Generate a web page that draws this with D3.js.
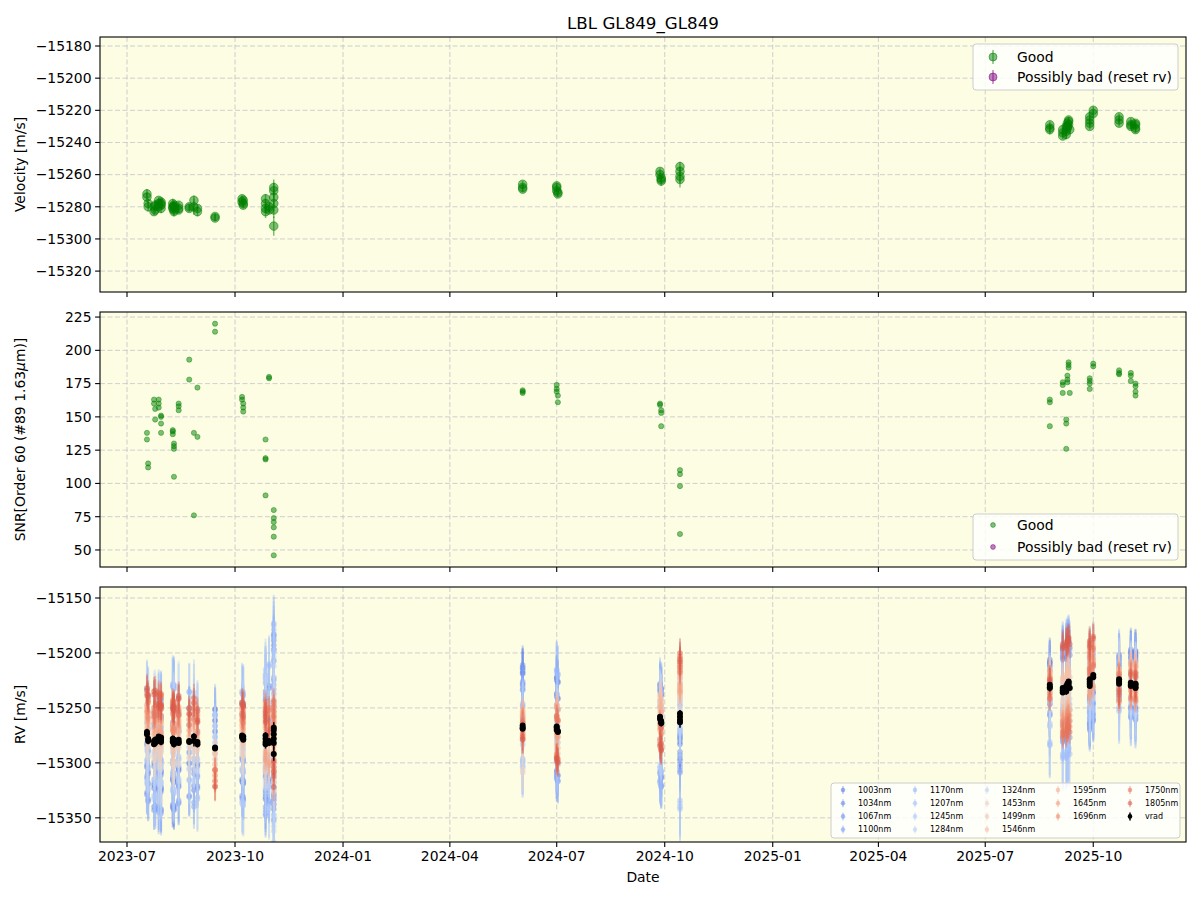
<!DOCTYPE html>
<html>
<head>
<meta charset="utf-8">
<script src="https://cdn.jsdelivr.net/npm/d3@7"></script>
<style>
  body { margin: 0; background: #fff; }
  text { font-family: "DejaVu Sans", sans-serif; fill: #000; }
</style>
</head>
<body>
<svg id="chart" width="1200" height="900"></svg>
<script>
// ---- data ---------------------------------------------------------------
// one entry per observation; groupSize splits them into the visits used by
// the per-band offsets below
var obsDate = [
  "2023-07-18","2023-07-18","2023-07-19","2023-07-19",
  "2023-07-24","2023-07-24","2023-07-25","2023-07-25",
  "2023-07-28","2023-07-28","2023-07-28","2023-07-30","2023-07-30","2023-07-30","2023-07-30",
  "2023-08-09","2023-08-09","2023-08-09","2023-08-10","2023-08-10","2023-08-10","2023-08-10",
  "2023-08-14","2023-08-14","2023-08-14",
  "2023-08-23","2023-08-23",
  "2023-08-27","2023-08-27",
  "2023-08-30","2023-08-30",
  "2023-09-14","2023-09-14",
  "2023-10-07","2023-10-07","2023-10-08","2023-10-08","2023-10-08",
  "2023-10-27","2023-10-27","2023-10-27","2023-10-27",
  "2023-10-30","2023-10-30",
  "2023-11-03","2023-11-03","2023-11-03","2023-11-03","2023-11-03","2023-11-03",
  "2024-06-02","2024-06-02","2024-06-02",
  "2024-07-01","2024-07-01","2024-07-01","2024-07-02","2024-07-02",
  "2024-09-27","2024-09-27","2024-09-28","2024-09-28","2024-09-28",
  "2024-10-14","2024-10-14","2024-10-14","2024-10-14",
  "2025-08-25","2025-08-25","2025-08-25",
  "2025-09-05","2025-09-05","2025-09-05","2025-09-08","2025-09-08","2025-09-08","2025-09-09",
  "2025-09-09","2025-09-09","2025-09-10","2025-09-10","2025-09-10","2025-09-11",
  "2025-09-28","2025-09-28","2025-09-28","2025-09-28","2025-10-01","2025-10-01",
  "2025-10-23","2025-10-23","2025-10-23",
  "2025-11-02","2025-11-02","2025-11-02","2025-11-06","2025-11-06","2025-11-06","2025-11-06"
];
var obsVrad = [
  -15272,-15274,-15278,-15280,
  -15280,-15283,-15282,-15279,
  -15276,-15278,-15280,-15277,-15279,-15281,-15278,
  -15278,-15280,-15281,-15282,-15279,-15280,-15283,
  -15279,-15281,-15282,
  -15280,-15281,
  -15276,-15280,
  -15281,-15283,
  -15286,-15287,
  -15275,-15277,-15278,-15279,-15276,
  -15275,-15278,-15281,-15283,
  -15280,-15282,
  -15268,-15270,-15274,-15278,-15282,-15292,
  -15266,-15268,-15269,
  -15267,-15268,-15270,-15271,-15272,
  -15258,-15260,-15262,-15263,-15264,
  -15255,-15258,-15261,-15263,
  -15229,-15231,-15232,
  -15234,-15236,-15232,-15233,-15230,-15235,-15228,-15231,-15230,-15226,-15229,-15227,-15232,
  -15224,-15226,-15228,-15230,-15220,-15222,
  -15224,-15226,-15228,
  -15227,-15229,-15230,-15228,-15229,-15231,-15232
];
var obsErr = [
  3,3,3,3,
  2,2,2,3,
  2,2,2,2,2,3,3,
  3,3,3,3,3,3,3,
  2,2,2,
  2,2,
  3,5,
  2,3,
  2,2,
  2,2,2,2,2,
  3,3,3,4,
  2,2,
  5,5,5,5,5,6,
  2,2,2,
  2,2,2,2,2,
  2,2,2,2,3,
  3,3,4,5,
  2,2,3,
  2,2,2,3,3,3,2,2,2,2,2,2,2,
  2,2,2,2,2,2,
  2,2,2,
  2,2,2,2,2,2,2
];
var obsSnr = [
  138,133,115,112,
  163,160,156,148,
  163,160,157,151,150,145,138,
  140,139,137,130,128,126,105,
  160,158,155,
  193,178,
  138,76,
  172,135,
  220,214,
  165,163,160,157,154,
  133,119,118,91,
  180,179,
  80,74,71,67,60,46,
  170,169,168,
  174,171,169,166,161,
  160,159,155,153,143,
  110,107,98,62,
  163,161,143,
  176,174,168,148,145,126,181,178,176,191,189,187,168,
  179,177,175,171,190,188,
  185,183,182,
  183,181,177,175,173,169,166
];
var groupSize = [4,4,7,7,3,2,2,2,2,5,4,2,6,3,5,5,4,3,13,6,3,7];

var bandNames = ["1003nm","1034nm","1067nm","1100nm","1170nm","1207nm","1245nm","1284nm",
  "1324nm","1453nm","1499nm","1546nm","1595nm","1645nm","1696nm","1750nm","1805nm"];
var bandWave = [1003,1034,1067,1100,1170,1207,1245,1284,1324,1453,1499,1546,1595,1645,1696,1750,1805];
var bandErr = [20,18,18,20, 26,30,28,32,34, 18,15,13, 11,10,10,11,13];
// RV offset of each band from vrad, one row per visit (groupSize order)
var bandOffset = [
  [-30,-55,-10,-40, 40,-25,-45,10,-15, -5,5,10, 15,25,20,35,40],
  [-40,-20,-60,15, -35,25,-50,-10,30, -15,0,5, 10,20,30,25,45],
  [20,-45,-30,-65, 35,-20,10,-40,-25, -10,-5,15, 20,5,30,40,30],
  [-35,-60,15,-20, 50,-30,-45,30,-10, -20,-5,0, 15,25,10,35,30],
  [-25,10,-40,-55, 25,-15,-35,40,-20, -5,5,10, 20,15,30,25,40],
  [30,-20,-50,-10, 45,-35,15,-25,-5, -15,0,5, 10,20,15,30,25],
  [-45,20,-30,-60, -20,40,-40,25,-10, -10,-5,10, 15,25,20,30,35],
  [-20,-40,10,-30, 30,-50,-15,20,-25, -5,0,5, 20,10,25,30,20],
  [35,25,15,30, 20,10,30,5,-5, -10,-15,-5, -20,-25,-30,-20,-35],
  [-40,30,-55,-20, 40,-30,-60,20,-10, -15,-5,5, 10,25,15,20,30],
  [-50,40,-30,-65, 55,-20,60,-40,25, -10,-25,10, 15,-15,25,30,20],
  [-35,50,-55,20, 70,-40,-60,35,-15, -20,-10,5, 25,-20,15,30,10],
  [-60,85,-40,45, 95,-55,70,-80,30, -25,-35,15, 20,-15,10,25,-30],
  [50,55,40,35, 20,-30,-35,10,-15, -40,-10,5, 15,10,-5,5,-10],
  [45,30,-40,-45, 52,20,-30,-10,5, -20,-15,10, 20,-5,-25,10,-28],
  [30,25,-50,-58, 28,-45,15,-20,10, 5,15,20, 10,-10,-20,-5,-25],
  [-20,-35,-46,-15, 15,-79,-10,5,35, 30,20,25, 40,27,50,45,55],
  [23,20,-15,-25, 15,-52,-35,-13,-5, 5,10,0, 14,-5,8,-10,5],
  [37,30,-45,-20, 35,-60,-30,-15,5, -10,-20,10, -25,-35,-30,-40,40],
  [-15,-40,-25,-35, 20,-30,10,-20,15, 25,30,10, 15,-10,25,10,35],
  [22,15,-5,-15, 20,-25,10,-10,5, 0,5,10, 9,-5,-17,5,-10],
  [30,25,-21,-29, 20,-25,10,-15,5, 0,10,15, 19,-5,-12,10,0]
];

var xTicks = ["2023-07","2023-10","2024-01","2024-04","2024-07","2024-10","2025-01","2025-04","2025-07","2025-10"];
var velTicks = [-15320,-15300,-15280,-15260,-15240,-15220,-15200,-15180];
var snrTicks = [50,75,100,125,150,175,200,225];
var rvTicks = [-15350,-15300,-15250,-15200,-15150];

// ---- layout -------------------------------------------------------------
var svg = d3.select("#chart");
var L = 100, R = 1186;
var panels = [
  { top: 37, bottom: 292, dom: [-15333, -15174.4], ticks: velTicks, label: "Velocity [m/s]" },
  { top: 312, bottom: 567, dom: [37.2, 228.8], ticks: snrTicks, label: null },
  { top: 587, bottom: 842, dom: [-15372, -15140], ticks: rvTicks, label: "RV [m/s]" }
];
var BG = "#fdfde3", GOOD = "green", BAD = "purple";
var parse = d3.utcParse("%Y-%m-%d"), parseM = d3.utcParse("%Y-%m");
var x = d3.scaleUtc().domain([parse("2023-06-08"), parse("2025-12-19")]).range([L, R]);
var fmt = function (v) { return v < 0 ? "\u2212" + Math.abs(v) : String(v); };

var obsGroup = [];
groupSize.forEach(function (n, g) { for (var k = 0; k < n; k++) obsGroup.push(g); });
var obs = obsDate.map(function (d, i) {
  return { t: parse(d), v: obsVrad[i], e: obsErr[i], s: obsSnr[i], g: obsGroup[i] };
});

// matplotlib coolwarm key colours
var cw = d3.scaleLinear()
  .domain([0, 0.125, 0.25, 0.375, 0.5, 0.625, 0.75, 0.875, 1])
  .range(["rgb(59,76,192)","rgb(98,130,234)","rgb(141,176,254)","rgb(184,208,249)",
          "rgb(221,221,221)","rgb(245,196,172)","rgb(244,154,123)","rgb(222,96,77)","rgb(180,4,38)"])
  .interpolate(d3.interpolateRgb);
var tw = d3.scaleLinear().domain([1003, 1805]).range([0.12, 0.88]);
function bandColor(b) { return cw(tw(bandWave[b])); }

svg.append("rect").attr("width", 1200).attr("height", 900).attr("fill", "#fff");
var defs = svg.append("defs");

panels.forEach(function (p, pi) {
  p.y = d3.scaleLinear().domain(p.dom).range([p.bottom, p.top]);
  defs.append("clipPath").attr("id", "clip" + pi).append("rect")
    .attr("x", L).attr("y", p.top).attr("width", R - L).attr("height", p.bottom - p.top);
  var g = svg.append("g");
  g.append("rect").attr("x", L).attr("y", p.top).attr("width", R - L)
    .attr("height", p.bottom - p.top).attr("fill", BG);
  // grid
  xTicks.forEach(function (t) {
    var xx = x(parseM(t));
    g.append("line").attr("x1", xx).attr("x2", xx).attr("y1", p.top).attr("y2", p.bottom)
      .attr("stroke", "#b0b0c0").attr("stroke-opacity", 0.6).attr("stroke-dasharray", "5,2.5");
    g.append("line").attr("x1", xx).attr("x2", xx).attr("y1", p.bottom).attr("y2", p.bottom + 4.9)
      .attr("stroke", "#000").attr("stroke-width", 1.1);
    if (pi === 2) {
      g.append("text").attr("x", xx).attr("y", p.bottom + 19).attr("text-anchor", "middle")
        .style("font-size", "13.9px").text(t);
    }
  });
  p.ticks.forEach(function (t) {
    var yy = p.y(t);
    g.append("line").attr("x1", L).attr("x2", R).attr("y1", yy).attr("y2", yy)
      .attr("stroke", "#b0b0c0").attr("stroke-opacity", 0.6).attr("stroke-dasharray", "5,2.5");
    g.append("line").attr("x1", L - 4.9).attr("x2", L).attr("y1", yy).attr("y2", yy)
      .attr("stroke", "#000").attr("stroke-width", 1.1);
    g.append("text").attr("x", L - 8.5).attr("y", yy).attr("dy", "0.35em")
      .attr("text-anchor", "end").style("font-size", "13.9px").text(fmt(t));
  });
  p.g = svg.append("g").attr("clip-path", "url(#clip" + pi + ")");
  p.frame = function () {
    svg.append("rect").attr("x", L).attr("y", p.top).attr("width", R - L)
      .attr("height", p.bottom - p.top).attr("fill", "none").attr("stroke", "#000").attr("stroke-width", 1.1);
  };
  var cy = (p.top + p.bottom) / 2;
  if (p.label) {
    svg.append("text").attr("transform", "translate(25," + cy + ") rotate(-90)")
      .attr("text-anchor", "middle").style("font-size", "13.9px").text(p.label);
  } else {
    var tl = svg.append("text").attr("transform", "translate(25," + cy + ") rotate(-90)")
      .attr("text-anchor", "middle").style("font-size", "13.9px");
    tl.append("tspan").text("SNR[Order 60 (#89 1.63");
    tl.append("tspan").style("font-style", "italic").text("\u03bc");
    tl.append("tspan").text("m)]");
  }
});

// ---- top: velocity -------------------------------------------------------
var P0 = panels[0];
obs.forEach(function (o) {
  P0.g.append("line").attr("x1", x(o.t)).attr("x2", x(o.t))
    .attr("y1", P0.y(o.v - o.e)).attr("y2", P0.y(o.v + o.e))
    .attr("stroke", GOOD).attr("stroke-opacity", 0.5).attr("stroke-width", 1.5);
  P0.g.append("circle").attr("cx", x(o.t)).attr("cy", P0.y(o.v)).attr("r", 4.3)
    .attr("fill", GOOD).attr("fill-opacity", 0.5).attr("stroke", GOOD).attr("stroke-opacity", 0.5);
});

// ---- middle: SNR ---------------------------------------------------------
var P1 = panels[1];
obs.forEach(function (o) {
  P1.g.append("circle").attr("cx", x(o.t)).attr("cy", P1.y(o.s)).attr("r", 2.6)
    .attr("fill", GOOD).attr("fill-opacity", 0.5).attr("stroke", GOOD).attr("stroke-opacity", 0.5)
    .attr("stroke-width", 0.8);
});

// ---- bottom: per-band RV -------------------------------------------------
var P2 = panels[2];
bandNames.forEach(function (name, b) {
  var col = bandColor(b);
  var gb = P2.g.append("g");
  obs.forEach(function (o) {
    var v = o.v + bandOffset[o.g][b];
    gb.append("line").attr("x1", x(o.t)).attr("x2", x(o.t))
      .attr("y1", P2.y(v - bandErr[b])).attr("y2", P2.y(v + bandErr[b]))
      .attr("stroke", col).attr("stroke-opacity", 0.35).attr("stroke-width", 2);
    gb.append("circle").attr("cx", x(o.t)).attr("cy", P2.y(v)).attr("r", 2.8)
      .attr("fill", col).attr("fill-opacity", 0.5);
  });
});
obs.forEach(function (o) {
  P2.g.append("line").attr("x1", x(o.t)).attr("x2", x(o.t))
    .attr("y1", P2.y(o.v - o.e)).attr("y2", P2.y(o.v + o.e))
    .attr("stroke", "#000").attr("stroke-width", 1.5);
  P2.g.append("circle").attr("cx", x(o.t)).attr("cy", P2.y(o.v)).attr("r", 3).attr("fill", "#000");
});

panels.forEach(function (p) { p.frame(); });

// ---- legends -------------------------------------------------------------
function legendBox(x0, y0, w, h) {
  svg.append("rect").attr("x", x0).attr("y", y0).attr("width", w).attr("height", h)
    .attr("rx", 3).attr("fill", "#fff").attr("fill-opacity", 0.8)
    .attr("stroke", "#cccccc").attr("stroke-width", 1);
}
legendBox(973, 44, 205, 46);
[["Good", GOOD, 57], ["Possibly bad (reset rv)", BAD, 77]].forEach(function (e) {
  svg.append("line").attr("x1", 993).attr("x2", 993).attr("y1", e[2] - 7).attr("y2", e[2] + 7)
    .attr("stroke", e[1]).attr("stroke-opacity", 0.5).attr("stroke-width", 1.5);
  svg.append("circle").attr("cx", 993).attr("cy", e[2]).attr("r", 4)
    .attr("fill", e[1]).attr("fill-opacity", 0.5).attr("stroke", e[1]).attr("stroke-opacity", 0.5);
  svg.append("text").attr("x", 1017).attr("y", e[2]).attr("dy", "0.35em")
    .style("font-size", "13.9px").text(e[0]);
});
legendBox(973, 514, 205, 46);
[["Good", GOOD, 525], ["Possibly bad (reset rv)", BAD, 547]].forEach(function (e) {
  svg.append("circle").attr("cx", 993).attr("cy", e[2]).attr("r", 2.4)
    .attr("fill", e[1]).attr("fill-opacity", 0.5).attr("stroke", e[1]).attr("stroke-opacity", 0.5);
  svg.append("text").attr("x", 1017).attr("y", e[2]).attr("dy", "0.35em")
    .style("font-size", "13.9px").text(e[0]);
});
legendBox(831, 783, 349, 55);
var colSizes = [4, 4, 4, 3, 3];
var colMarkX = [843, 915, 987, 1058, 1130];
var entries = bandNames.map(function (n, b) { return { name: n, col: bandColor(b), black: false }; });
entries.push({ name: "vrad", col: "#000", black: true });
var k = 0;
colSizes.forEach(function (n, c) {
  for (var r = 0; r < n; r++) {
    var e = entries[k++];
    var mx = colMarkX[c], my = 790 + r * 13.2;
    svg.append("line").attr("x1", mx).attr("x2", mx).attr("y1", my - 4).attr("y2", my + 4)
      .attr("stroke", e.col).attr("stroke-opacity", e.black ? 1 : 0.45).attr("stroke-width", 1.5);
    svg.append("circle").attr("cx", mx).attr("cy", my).attr("r", 2.3)
      .attr("fill", e.col).attr("fill-opacity", e.black ? 1 : 0.6);
    svg.append("text").attr("x", mx + 15).attr("y", my).attr("dy", "0.35em")
      .style("font-size", "8px").text(e.name);
  }
});

// ---- titles --------------------------------------------------------------
svg.append("text").attr("x", (L + R) / 2).attr("y", 29).attr("text-anchor", "middle")
  .style("font-size", "16.7px").text("LBL GL849_GL849");
svg.append("text").attr("x", (L + R) / 2).attr("y", 882).attr("text-anchor", "middle")
  .style("font-size", "13.9px").text("Date");
</script>
</body>
</html>
